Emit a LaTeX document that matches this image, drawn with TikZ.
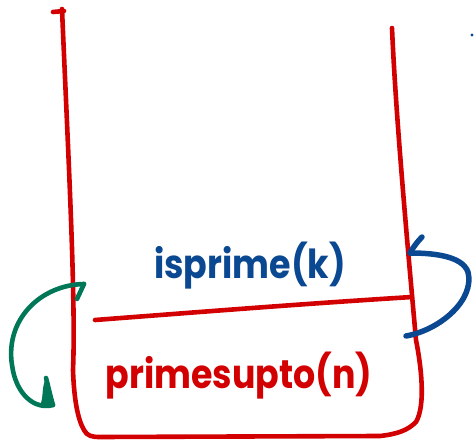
\documentclass[tikz,border=0pt]{standalone}
\usepackage{fontspec}
\setmainfont{Poppins}
\definecolor{penred}{RGB}{210,0,0}
\definecolor{penblue}{RGB}{10,72,146}
\definecolor{pengreen}{RGB}{0,120,88}
\begin{document}
\begin{tikzpicture}[x=1pt,y=-1pt,
  redpen/.style={penred,line width=4.6pt,line cap=round,line join=round},
  bluepen/.style={penblue,line width=5.5pt,line cap=round,line join=round},
  greenpen/.style={pengreen,line width=4.6pt,line cap=round,line join=round},
  hand/.style={font=\fontsize{40}{48}\selectfont\bfseries,inner sep=0pt,xscale=0.87}]
\useasboundingbox (0,0) rectangle (475,442);
% container
\draw[redpen] (53,12) -- (64,11);
\draw[redpen] (62,9) .. controls (68,150) and (76,300) .. (73,370)
  .. controls (74,400) and (78,420) .. (84,430)
  .. controls (87,436) and (92,437) .. (100,437) -- (380,436)
  .. controls (398,434) and (408,430) .. (416,422)
  .. controls (426,405) and (421,365) .. (416,340)
  .. controls (408,250) and (396,120) .. (392,28);
% divider
\coordinate (dl) at (95,320);
\coordinate (dr) at (412,297);
\draw[redpen] (dl) .. controls (200,312) and (300,304) .. (dr);
% labels
\node[hand,text=penblue] (top) at (250,266) {isprime(k)};
\node[hand,text=penred] (bot) at (239,376) {primesupto(n)};
% green arrow
\coordinate (gs) at (84,284);
\coordinate (gt) at (53,405);
\coordinate (gb) at (46,378);
\draw[greenpen] (gs) -- (77,299);
\draw[greenpen] (gs) .. controls (40,285) and (5,320) .. (12,365)
  .. controls (16,395) and (35,410) .. (gt);
\fill[pengreen] (gt) .. controls (50,395) and (47,386) .. (gb)
  .. controls (41,388) and (44,398) .. (40,405) -- cycle;
\draw[greenpen] (gt) .. controls (50,395) and (48,385) .. (gb);
% blue arrow
\coordinate (bs) at (406,336);
\coordinate (bt) at (410,253);
\coordinate (bb) at (422,237);
\draw[bluepen] (bs) .. controls (440,330) and (475,300) .. (468,272)
  .. controls (462,255) and (430,253) .. (bt);
\draw[bluepen] (bt) .. controls (414,246) and (418,241) .. (bb);
% stray mark
\fill[penblue] (472,35) circle (1.6);
\end{tikzpicture}
\end{document}
